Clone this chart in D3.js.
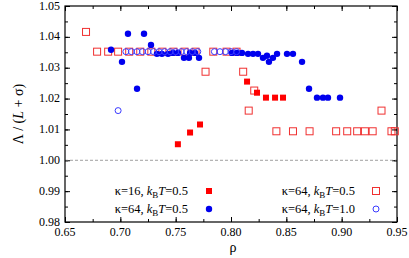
<!DOCTYPE html>
<html>
<head>
<meta charset="utf-8">
<script src="https://cdn.jsdelivr.net/npm/d3@7"></script>
<style>
  body { margin: 0; background: #fff; }
</style>
</head>
<body>
<div id="chart"></div>
<script>
// kappa=16, kBT=0.5 (filled red squares)
var rhoK16 = [0.752, 0.763, 0.772, 0.8145, 0.8235, 0.8316, 0.8398, 0.847]
var valK16 = [1.0052, 1.0090, 1.0116, 1.0255, 1.0219, 1.0203, 1.0203, 1.0203]

// kappa=64, kBT=0.5 (open red squares)
var rhoK64sq = [0.669, 0.679, 0.689, 0.698, 0.708, 0.718, 0.728, 0.738, 0.748, 0.758, 0.768,
  0.784, 0.796, 0.805, 0.777, 0.811, 0.821, 0.816, 0.936,
  0.841, 0.856, 0.871, 0.895, 0.905, 0.914, 0.921, 0.928, 0.945, 0.948]
var valK64sq = [1.0416, 1.0352, 1.0352, 1.0352, 1.0352, 1.0352, 1.0352, 1.0352, 1.0352, 1.0352, 1.0352,
  1.0352, 1.0352, 1.0352, 1.0287, 1.0287, 1.0226, 1.0161, 1.0161,
  1.0094, 1.0094, 1.0094, 1.0094, 1.0094, 1.0094, 1.0094, 1.0094, 1.0094, 1.0094]

// kappa=64, kBT=0.5 (filled blue circles)
var rhoK64c = [0.6916, 0.7015, 0.7069, 0.7151, 0.7214, 0.7277, 0.7331, 0.7376, 0.7431, 0.7476,
  0.7521, 0.7575, 0.762, 0.763, 0.7675, 0.7711, 0.8009, 0.8054, 0.8099, 0.8154, 0.8199, 0.8244,
  0.8289, 0.8325, 0.8343, 0.8379, 0.8416, 0.8506, 0.856, 0.8642, 0.8705, 0.8777, 0.8831, 0.8876, 0.8985]
var valK64c = [1.0358, 1.0319, 1.0410, 1.0232, 1.0410, 1.0374, 1.0345, 1.0345, 1.0345, 1.0348,
  1.0348, 1.0332, 1.0332, 1.0348, 1.0348, 1.0332, 1.0348, 1.0348, 1.0348, 1.0345, 1.0345, 1.0345,
  1.0332, 1.0339, 1.0319, 1.0332, 1.0345, 1.0345, 1.0345, 1.0319, 1.0232, 1.0203, 1.0203, 1.0203, 1.0203]

// kappa=64, kBT=1.0 (open blue circles)
var rhoT10 = [0.698, 0.705, 0.710, 0.715, 0.720, 0.725, 0.730, 0.735, 0.740, 0.745, 0.750,
  0.755, 0.760, 0.765, 0.770, 0.785, 0.790, 0.795, 0.800, 0.805]
var valT10 = [1.0161, 1.0352, 1.0352, 1.0352, 1.0352, 1.0352, 1.0352, 1.0352, 1.0352, 1.0352, 1.0352,
  1.0352, 1.0352, 1.0352, 1.0352, 1.0352, 1.0352, 1.0352, 1.0352, 1.0352]

var xTicks = [0.65, 0.70, 0.75, 0.80, 0.85, 0.90, 0.95]
var yTicks = [0.98, 0.99, 1.00, 1.01, 1.02, 1.03, 1.04, 1.05]

var W = 409, H = 258
var margin = {top: 6, right: 12, bottom: 36, left: 65}
var w = W - margin.left - margin.right
var h = H - margin.top - margin.bottom
var serif = '"Liberation Serif", "Times New Roman", "DejaVu Serif", serif'

var svg = d3.select('#chart').append('svg').attr('width', W).attr('height', H)
  .attr('font-family', serif)
var g = svg.append('g').attr('transform', 'translate(' + margin.left + ',' + margin.top + ')')

var x = d3.scaleLinear().domain([0.65, 0.95]).range([0, w])
var y = d3.scaleLinear().domain([0.98, 1.05]).range([h, 0])

var minorX = d3.range(0, 13).map(function (i) { return 0.65 + i * 0.025 })
var minorY = d3.range(0, 15).map(function (i) { return 0.98 + i * 0.005 })

// inward ticks on all four sides
function tickAxis(axisFn, scale, vals, len, tr) {
  var a = g.append('g').attr('transform', tr)
    .call(axisFn(scale).tickValues(vals).tickSize(len).tickFormat(''))
  a.select('.domain').remove()
  a.selectAll('line').attr('stroke', '#000').attr('stroke-width', 1)
}
tickAxis(d3.axisTop, x, minorX, 3, 'translate(0,' + h + ')')
tickAxis(d3.axisTop, x, xTicks, 5, 'translate(0,' + h + ')')
tickAxis(d3.axisBottom, x, minorX, 3, 'translate(0,0)')
tickAxis(d3.axisBottom, x, xTicks, 5, 'translate(0,0)')
tickAxis(d3.axisRight, y, minorY, 3, 'translate(0,0)')
tickAxis(d3.axisRight, y, yTicks, 5, 'translate(0,0)')
tickAxis(d3.axisLeft, y, minorY, 3, 'translate(' + w + ',0)')
tickAxis(d3.axisLeft, y, yTicks, 5, 'translate(' + w + ',0)')

// tick labels
g.selectAll('.xl').data(xTicks).enter().append('text')
  .attr('x', function (d) { return x(d) }).attr('y', h + 14)
  .attr('text-anchor', 'middle').attr('font-size', 12)
  .attr('font-family', serif)
  .text(function (d) { return d.toFixed(2) })
g.selectAll('.yl').data(yTicks).enter().append('text')
  .attr('x', -5).attr('y', function (d) { return y(d) + 3.5 })
  .attr('text-anchor', 'end').attr('font-size', 12)
  .attr('font-family', serif)
  .text(function (d) { return d.toFixed(2) })

// reference line at 1
g.append('line')
  .attr('x1', 0).attr('x2', w).attr('y1', y(1)).attr('y2', y(1))
  .attr('stroke', '#888').attr('stroke-width', 0.8).attr('stroke-dasharray', '3,2')

// frame
g.append('rect').attr('width', w).attr('height', h)
  .attr('fill', 'none').attr('stroke', '#000').attr('stroke-width', 1.2)

// markers
function pts(xs, ys) { return xs.map(function (v, i) { return [v, ys[i]] }) }

g.selectAll('.osq').data(pts(rhoK64sq, valK64sq)).enter().append('rect')
  .attr('x', function (d) { return x(d[0]) - 3.5 }).attr('y', function (d) { return y(d[1]) - 3.5 })
  .attr('width', 7).attr('height', 7)
  .attr('fill', 'none').attr('stroke', '#f03030').attr('stroke-width', 1)

g.selectAll('.fc').data(pts(rhoK64c, valK64c)).enter().append('circle')
  .attr('cx', function (d) { return x(d[0]) }).attr('cy', function (d) { return y(d[1]) })
  .attr('r', 3.2).attr('fill', '#0000ee')

g.selectAll('.oc').data(pts(rhoT10, valT10)).enter().append('circle')
  .attr('cx', function (d) { return x(d[0]) }).attr('cy', function (d) { return y(d[1]) })
  .attr('r', 3).attr('fill', 'none').attr('stroke', '#3a3aff').attr('stroke-width', 1)

g.selectAll('.fsq').data(pts(rhoK16, valK16)).enter().append('rect')
  .attr('x', function (d) { return x(d[0]) - 3 }).attr('y', function (d) { return y(d[1]) - 3 })
  .attr('width', 6).attr('height', 6).attr('fill', '#ff0000')

// legend
function legendText(px, py, kappa, temp) {
  var t = svg.append('text').attr('x', px).attr('y', py).attr('text-anchor', 'end')
    .attr('font-size', 12.5).attr('font-family', serif)
  t.append('tspan').text('\u03ba=' + kappa + ', ')
  t.append('tspan').attr('font-style', 'italic').text('k')
  t.append('tspan').attr('font-size', 9).attr('dy', 3).text('B')
  t.append('tspan').attr('font-style', 'italic').attr('dy', -3).text('T')
  t.append('tspan').text('=' + temp)
}
legendText(188, 195, 16, '0.5')
legendText(188, 213, 64, '0.5')
legendText(355, 195, 64, '0.5')
legendText(355, 213, 64, '1.0')

svg.append('rect').attr('x', 206).attr('y', 188).attr('width', 6).attr('height', 6).attr('fill', '#ff0000')
svg.append('circle').attr('cx', 209).attr('cy', 209).attr('r', 3.2).attr('fill', '#0000ee')
svg.append('rect').attr('x', 372.5).attr('y', 187.5).attr('width', 7).attr('height', 7)
  .attr('fill', 'none').attr('stroke', '#f03030').attr('stroke-width', 1)
svg.append('circle').attr('cx', 376).attr('cy', 209).attr('r', 3).attr('fill', 'none')
  .attr('stroke', '#3a3aff').attr('stroke-width', 1)

// axis titles
svg.append('text').attr('x', 233).attr('y', 252).attr('text-anchor', 'middle')
  .attr('font-size', 14).attr('font-family', serif).text('\u03c1')
var yt = svg.append('text').attr('transform', 'translate(23,' + (margin.top + h / 2) + ') rotate(-90)')
  .attr('text-anchor', 'middle').attr('font-size', 14).attr('font-family', serif)
yt.append('tspan').text('\u039b / (')
yt.append('tspan').attr('font-style', 'italic').text('L')
yt.append('tspan').text(' + \u03c3)')
</script>
</body>
</html>
